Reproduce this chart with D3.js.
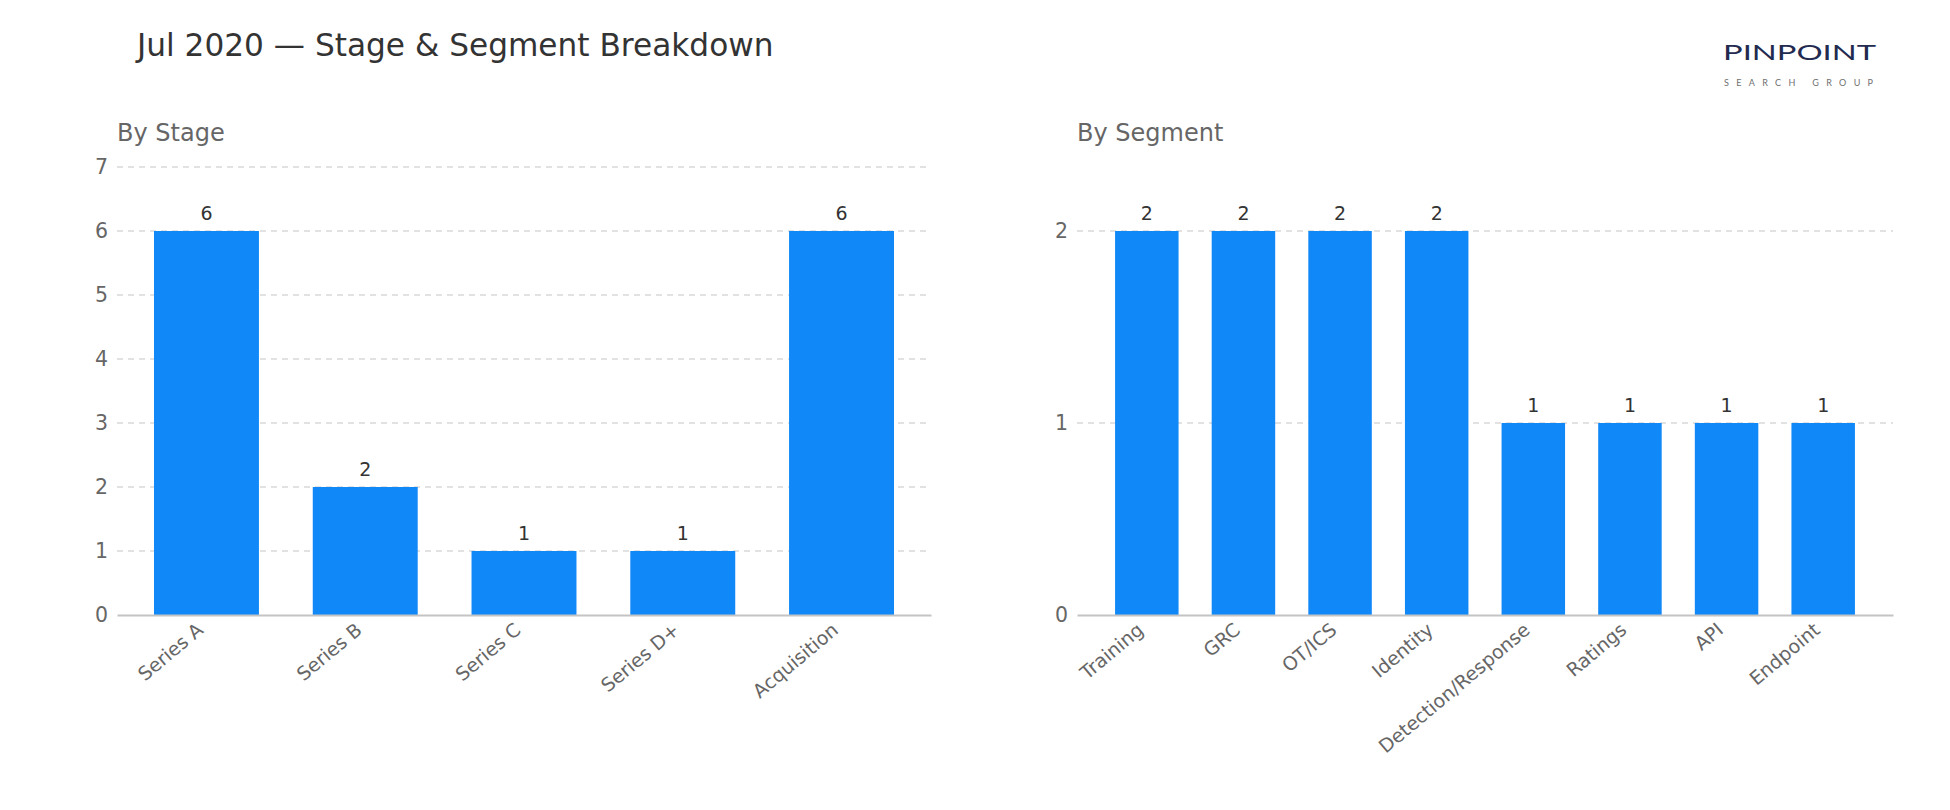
<!DOCTYPE html>
<html>
<head>
<meta charset="utf-8">
<script src="https://cdn.jsdelivr.net/npm/d3@7"></script>
<style>
  html, body { margin: 0; padding: 0; background: #ffffff; }
  svg { display: block; font-family: "DejaVu Sans", sans-serif; }
</style>
</head>
<body>
<svg id="chart" width="1950" height="810"></svg>
<script>
// ---- data ----
const titleText = "Jul 2020 — Stage & Segment Breakdown";
const stageTitle = "By Stage";
const stageCategories = ["Series A", "Series B", "Series C", "Series D+", "Acquisition"];
const stageValues = [6, 2, 1, 1, 6];
const stageTicks = [0, 1, 2, 3, 4, 5, 6, 7];

const segmentTitle = "By Segment";
const segmentCategories = ["Training", "GRC", "OT/ICS", "Identity", "Detection/Response", "Ratings", "API", "Endpoint"];
const segmentValues = [2, 2, 2, 2, 1, 1, 1, 1];
const segmentTicks = [0, 1, 2];

const logoMain = "PINPOINT";
const logoSub = "SEARCH GROUP";

// ---- styles ----
const barColor = "#1188f8";
const gridColor = "#d9d9d9";
const axisColor = "#c4c4c4";
const tickColor = "#666666";
const valueColor = "#333333";

const svg = d3.select("#chart");

svg.append("text")
  .attr("x", 137).attr("y", 56)
  .attr("font-size", 31.2).attr("fill", "#333333")
  .text(titleText);

// logo
svg.append("text")
  .attr("x", 1723).attr("y", 59.5)
  .attr("font-family", "Lato, 'Open Sans', sans-serif")
  .attr("font-weight", 400)
  .attr("font-size", 20.5).attr("fill", "#222a4f")
  .attr("textLength", 153).attr("lengthAdjust", "spacingAndGlyphs")
  .text(logoMain);
svg.append("text")
  .attr("x", 1724).attr("y", 85.5)
  .attr("font-family", "Lato, 'Open Sans', sans-serif")
  .attr("font-size", 9).attr("fill", "#6f6f6f")
  .attr("textLength", 149).attr("lengthAdjust", "spacing")
  .text(logoSub);

function drawPanel(opts) {
  const { title, categories, values, ticks, x0, x1, padInner, padOuter } = opts;
  const yTop = 167, yBottom = 615;
  const g = svg.append("g");

  g.append("text")
    .attr("x", x0).attr("y", 141)
    .attr("font-size", 24).attr("fill", "#666666")
    .text(title);

  const x = d3.scaleBand().domain(categories).range([x0, x1])
    .paddingInner(padInner).paddingOuter(padOuter);
  const y = d3.scaleLinear().domain([0, d3.max(values) * 7 / 6]).range([yBottom, yTop]);

  // grid
  g.append("g").selectAll("line").data(ticks.filter(t => t > 0)).join("line")
    .attr("x1", x0).attr("x2", x1)
    .attr("y1", d => y(d)).attr("y2", d => y(d))
    .attr("stroke", gridColor).attr("stroke-width", 1.5)
    .attr("stroke-dasharray", "6,5");

  // bars
  g.append("g").selectAll("rect").data(values).join("rect")
    .attr("x", (d, i) => x(categories[i]))
    .attr("width", x.bandwidth())
    .attr("y", d => y(d))
    .attr("height", d => yBottom - y(d))
    .attr("fill", barColor);

  // value labels
  g.append("g").selectAll("text").data(values).join("text")
    .attr("x", (d, i) => x(categories[i]) + x.bandwidth() / 2)
    .attr("y", d => y(d) - 11)
    .attr("text-anchor", "middle")
    .attr("font-size", 19).attr("fill", valueColor)
    .text(d => d);

  // y axis
  const yAxis = d3.axisLeft(y).tickValues(ticks).tickFormat(d3.format("d")).tickSize(0).tickPadding(9);
  const ya = g.append("g").attr("transform", `translate(${x0},0)`).call(yAxis);
  ya.select(".domain").remove();
  ya.selectAll("text").attr("font-size", 20.5).attr("fill", tickColor).attr("font-family", "DejaVu Sans, sans-serif");

  // x axis
  const xAxis = d3.axisBottom(x).tickSize(0).tickPadding(0);
  const xa = g.append("g").attr("transform", `translate(0,${yBottom})`).call(xAxis);
  xa.select(".domain").attr("stroke", axisColor).attr("stroke-width", 2);
  xa.selectAll("text")
    .attr("font-size", 19).attr("fill", tickColor).attr("font-family", "DejaVu Sans, sans-serif")
    .attr("text-anchor", "end")
    .attr("x", 0).attr("y", 0).attr("dy", 0)
    .attr("transform", "translate(-2,17) rotate(-40)");
}

drawPanel({ title: stageTitle, categories: stageCategories, values: stageValues, ticks: stageTicks,
  x0: 117, x1: 931, padInner: 0.339, padOuter: 0.233 });
drawPanel({ title: segmentTitle, categories: segmentCategories, values: segmentValues, ticks: segmentTicks,
  x0: 1077, x1: 1893, padInner: 0.343, padOuter: 0.394 });
</script>
</body>
</html>
